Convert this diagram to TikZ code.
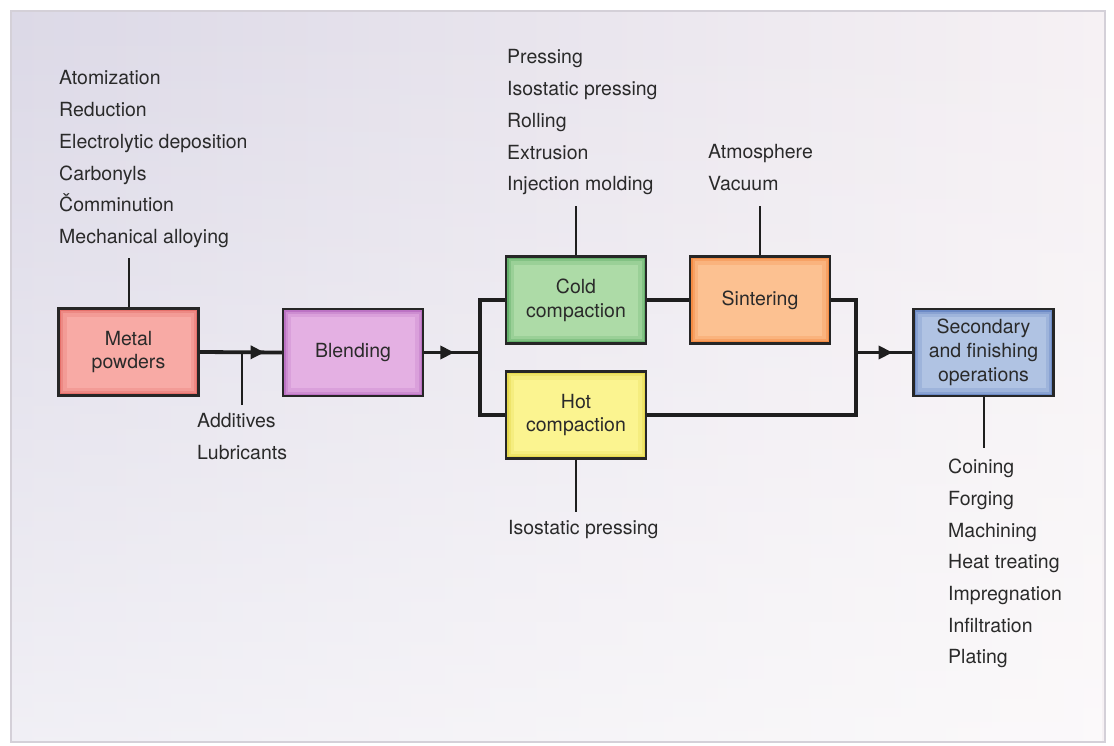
\documentclass[tikz,border=0pt]{standalone}
\usepackage{fontspec}
\setmainfont{TeX Gyre Heros}
\usetikzlibrary{arrows.meta,decorations.markings,fadings}
\definecolor{bgL}{HTML}{DCD9E7}
\definecolor{bgR}{HTML}{F6F1F4}
\definecolor{panelc}{HTML}{D4D0D8}
\definecolor{txt}{HTML}{2A2A2A}
\definecolor{flowc}{HTML}{1E1E1E}
\definecolor{boxline}{HTML}{262626}
\definecolor{metalF}{HTML}{F8AAA5}
\definecolor{metalE}{HTML}{E2605B}
\definecolor{blendF}{HTML}{E4B0E3}
\definecolor{blendE}{HTML}{B263BC}
\definecolor{coldF}{HTML}{ADDBA7}
\definecolor{coldE}{HTML}{4EA45A}
\definecolor{sintF}{HTML}{FCC191}
\definecolor{sintE}{HTML}{F27E2E}
\definecolor{hotF}{HTML}{FBF490}
\definecolor{hotE}{HTML}{E1D23C}
\definecolor{secF}{HTML}{B0C3E3}
\definecolor{secE}{HTML}{5A7BBE}
\newcommand\listfnt{\fontsize{19.5}{31.7}\selectfont}
\newcommand\boxfnt{\fontsize{19.5}{23.7}\selectfont}
\tikzset{
  box/.style 2 args={draw=boxline, line width=2.4pt, fill=#1,
    minimum width=140pt, minimum height=87pt, inner sep=0pt,
    align=center, font=\boxfnt, text=txt,
    path picture={
      \draw[#2, line width=16pt, opacity=0.2] (path picture bounding box.south west) rectangle (path picture bounding box.north east);
      \draw[#2, line width=9pt, opacity=0.3] (path picture bounding box.south west) rectangle (path picture bounding box.north east);
      \draw[#2, line width=5pt, opacity=0.6] (path picture bounding box.south west) rectangle (path picture bounding box.north east);
    }},
  list/.style={anchor=north west, inner sep=0pt, align=left, font=\listfnt, text=txt},
  flow/.style={line width=3.8pt, draw=flowc},
  feed/.style={line width=2pt, draw=flowc},
  arrowat/.style={postaction={decorate}, decoration={markings,
    mark=at position #1 with {\arrow{Triangle[length=14pt,width=13pt]}}}},
}
\begin{document}
\begin{tikzpicture}[x=1pt,y=-1pt]
\useasboundingbox (0,0) rectangle (1114,745);
\fill[white] (0,0) rectangle (1114,745);
\shade[left color=bgL, right color=bgR] (11,11) rectangle (1105,742);
\fill[white, opacity=0.6, path fading=north] (11,11) rectangle (1105,742);
\draw[panelc, line width=1.5pt] (11,11) rectangle (1105,742);

% boxes
\node[box={metalF}{metalE}] (metal) at (128.5,352) {Metal\\powders};
\node[box={blendF}{blendE}] (blend) at (353,352.5) {Blending};
\node[box={coldF}{coldE}] (cold) at (576,300) {Cold\\compaction};
\node[box={sintF}{sintE}] (sint) at (760,300) {Sintering};
\node[box={hotF}{hotE}] (hot) at (576,415) {Hot\\compaction};
\node[box={secF}{secE}] (sec) at (983.5,352.5) {Secondary\\and finishing\\operations};

% lists
\node[list] (atom) at (59,70.5) {Atomization\\Reduction\\Electrolytic deposition\\Carbonyls\\Čomminution\\Mechanical alloying};
\node[list] (press) at (507,49.5) {Pressing\\Isostatic pressing\\Rolling\\Extrusion\\Injection molding};
\node[list] (atmos) at (708,144.5) {Atmosphere\\Vacuum};
\node[list] (addit) at (197,413) {Additives\\Lubricants};
\node[list] (isost) at (508,520) {Isostatic pressing};
\node[list] (coin) at (948,459) {Coining\\Forging\\Machining\\Heat treating\\Impregnation\\Infiltration\\Plating};

% junctions
\coordinate (s1) at (480,352.5);
\coordinate (j1) at (856,352.5);

% flow
\draw[flow, arrowat=0.79] (metal.east) -- (blend.west);
\draw[flow, arrowat=0.54] (blend.east) -- (s1);
\draw[flow] (cold.west) -| (s1) |- (hot.west);
\draw[flow] (cold.east) -- (sint.west);
\draw[flow] (sint.east) -| (j1) |- (hot.east);
\draw[flow, arrowat=0.65] (j1) -- (sec.west);

% feeders
\draw[feed, shorten >=10.5pt] (metal.north) -- (metal.north |- atom.south);
\draw[feed, shorten >=10.5pt] (cold.north) -- (cold.north |- press.south);
\draw[feed, shorten >=14.5pt] (sint.north) -- (sint.north |- atmos.south);
\draw[feed, shorten <=8pt] (addit.north) -- (addit.north |- metal.east);
\draw[feed, shorten >=8pt] (hot.south) -- (hot.south |- isost.north);
\draw[feed, shorten >=11pt] (sec.south) -- (sec.south |- coin.north);
\end{tikzpicture}
\end{document}
